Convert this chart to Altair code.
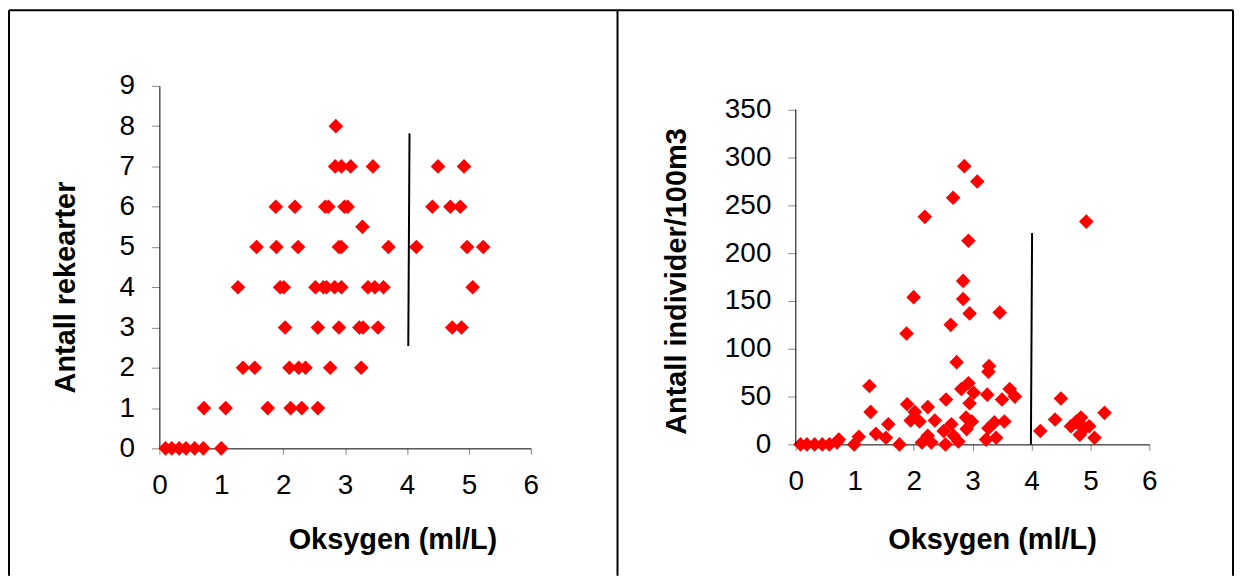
import altair as alt
import pandas as pd

# ---------------- data ----------------
# Left panel: number of shrimp species vs oxygen
left_oxygen = [
    0.10, 0.20, 0.32, 0.43, 0.57, 0.71, 1.00,
    0.72, 1.07, 1.75, 2.12, 2.30, 2.56,
    1.35, 1.54, 2.10, 2.25, 2.36, 2.76, 3.26,
    2.03, 2.56, 2.90, 3.23, 3.29, 3.53, 4.73, 4.88,
    1.27, 1.95, 2.01, 2.52, 2.65, 2.70, 2.83, 2.94, 3.37, 3.48, 3.62, 5.06,
    1.57, 1.89, 2.24, 2.90, 2.94, 3.70, 4.15, 4.97, 5.23,
    3.28,
    1.88, 2.19, 2.68, 2.73, 2.99, 3.04, 4.41, 4.70, 4.86,
    2.84, 2.94, 3.09, 3.45, 4.50, 4.92,
    2.85,
]
left_species = (
    [0] * 7 + [1] * 6 + [2] * 7 + [3] * 8 + [4] * 12 + [5] * 9
    + [5.5] + [6] * 9 + [7] * 6 + [8]
)

# Right panel: individuals per 100 m3 vs oxygen
right_oxygen = [
    0.08, 0.19, 0.32, 0.45, 0.57, 0.70, 0.73, 0.99, 1.07,
    1.25, 1.27, 1.36, 1.53, 1.57, 1.76, 1.88, 1.89, 2.00, 1.95, 2.02,
    2.10, 2.19, 2.24, 2.14, 2.24, 2.30, 2.36, 2.55, 2.54, 2.51, 2.63,
    2.67, 2.64, 2.68, 2.73, 2.76, 2.81, 2.84, 2.84, 2.86, 2.89, 2.90,
    2.93, 2.95, 2.93, 2.95, 2.99, 3.02, 3.08, 3.25, 3.28, 3.27, 3.23,
    3.27, 3.40, 3.37, 3.46, 3.50, 3.54, 3.63, 3.72,
    4.15, 4.40, 4.50, 4.67, 4.77, 4.84, 4.82, 4.93, 4.98, 4.90, 5.07,
    5.24, 4.76,
]
right_individuals = [
    0, 0, 0, 0, 0, 2, 5, 0, 8,
    61, 34, 11, 7, 21, 0, 116, 42, 154, 25, 34,
    24, 238, 39, 2, 9, 2, 25, 47, 0, 14, 125,
    258, 21, 9, 86, 3, 58, 152, 171, 291, 28, 16,
    64, 137, 213, 43, 24, 54, 275, 52, 82, 76, 5,
    17, 7, 23, 138, 47, 24, 58, 50,
    14, 26, 48, 19, 23, 28, 10, 233, 19, 17, 7,
    33, 24,
]

# Vertical reference lines (start / end points)
left_line_oxygen = [4.02]
left_line_oxygen2 = [4.04]
left_line_species = [2.54]
left_line_species2 = [7.82]

right_line_oxygen = [3.99]
right_line_oxygen2 = [4.01]
right_line_ind = [0]
right_line_ind2 = [221]

# y-axis line of the right panel runs from 0 to the top tick
right_axis_x = [0]
right_axis_y = [0]
right_axis_y2 = [350]

x_ticks = [0, 1, 2, 3, 4, 5, 6]
left_y_ticks = [0, 1, 2, 3, 4, 5, 6, 7, 8, 9]
right_y_ticks = [0, 50, 100, 150, 200, 250, 300, 350]

x_title = "Oksygen (ml/L)"
left_y_title = "Antall rekearter"
right_y_title = "Antall individer/100m3"

# ---------------- tables ----------------
left_df = pd.DataFrame({"oxygen": left_oxygen, "value": left_species})
right_df = pd.DataFrame({"oxygen": right_oxygen, "value": right_individuals})
left_line_df = pd.DataFrame({
    "oxygen": left_line_oxygen, "oxygen2": left_line_oxygen2,
    "value": left_line_species, "value2": left_line_species2,
})
right_line_df = pd.DataFrame({
    "oxygen": right_line_oxygen, "oxygen2": right_line_oxygen2,
    "value": right_line_ind, "value2": right_line_ind2,
})
right_axis_df = pd.DataFrame({
    "oxygen": right_axis_x, "oxygen2": right_axis_x,
    "value": right_axis_y, "value2": right_axis_y2,
})
one_row = pd.DataFrame({"k": [0]})

RED = "#FF0000"


def x_enc(title_x, title_y):
    return alt.X(
        "oxygen:Q",
        scale=alt.Scale(domain=[0, 6], nice=False, zero=False),
        axis=alt.Axis(
            title=x_title, values=x_ticks, format="d", tickSize=6, labelPadding=17,
            labelFlush=False, titleX=title_x, titleY=title_y, titleAlign="center",
            titleBaseline="alphabetic", titleAnchor="start",
        ),
    )


def y_enc(domain, values, title, title_x, title_y, show_domain=True):
    return alt.Y(
        "value:Q",
        scale=alt.Scale(domain=domain, nice=False, zero=False),
        axis=alt.Axis(
            title=title, values=values, format="d", tickSize=8, labelPadding=17,
            labelFlush=False, domain=show_domain, titleX=title_x, titleY=title_y,
            titleAlign="center", titleBaseline="alphabetic", titleAngle=270,
        ),
    )


def points(df, xe, ye):
    return alt.Chart(df).mark_point(
        shape="diamond", filled=True, color=RED, opacity=1, size=215
    ).encode(x=xe, y=ye)


def segment(df, xe, ye, width):
    return alt.Chart(df).mark_rule(color="black", strokeWidth=width).encode(
        x=xe, x2="oxygen2:Q", y=ye, y2="value2:Q"
    )


def frame_rule(**enc):
    return alt.Chart(one_row).mark_rule(color="black", strokeWidth=2).encode(**enc)


# ---------------- left panel ----------------
lx = x_enc(234, 101)
ly = y_enc([0, 9], left_y_ticks, left_y_title, -85, 202)

frame = alt.layer(
    frame_rule(x=alt.value(-151), x2=alt.value(1078), y=alt.value(-76)),
    frame_rule(x=alt.value(-151), y=alt.value(-76), y2=alt.value(492)),
    frame_rule(x=alt.value(460), y=alt.value(-76), y2=alt.value(492)),
    frame_rule(x=alt.value(1078), y=alt.value(-76), y2=alt.value(492)),
)

left = alt.layer(
    points(left_df, lx, ly),
    segment(left_line_df, lx, ly, 2),
    frame,
).properties(width=373, height=364)

# ---------------- right panel ----------------
rx = x_enc(197, 105)
ry = y_enc([0, 375], right_y_ticks, right_y_title, -111, 196, show_domain=False)

right = alt.layer(
    points(right_df, rx, ry),
    segment(right_line_df, rx, ry, 2),
    segment(right_axis_df, rx, ry, 1),
).properties(width=355, height=360)

chart = alt.hconcat(left, right, spacing=266, bounds="flush").properties(
    padding=0
).configure_view(stroke=None).configure_axis(
    grid=False,
    domainColor="black",
    domainWidth=1,
    tickColor="#888888",
    tickWidth=1,
    labelFont="Liberation Sans",
    labelFontSize=28,
    labelColor="black",
    titleFont="Liberation Sans",
    titleFontSize=29,
    titleFontWeight="bold",
    titleColor="black",
)

chart.save("out.html", embed_options={"renderer": "svg", "actions": False})
